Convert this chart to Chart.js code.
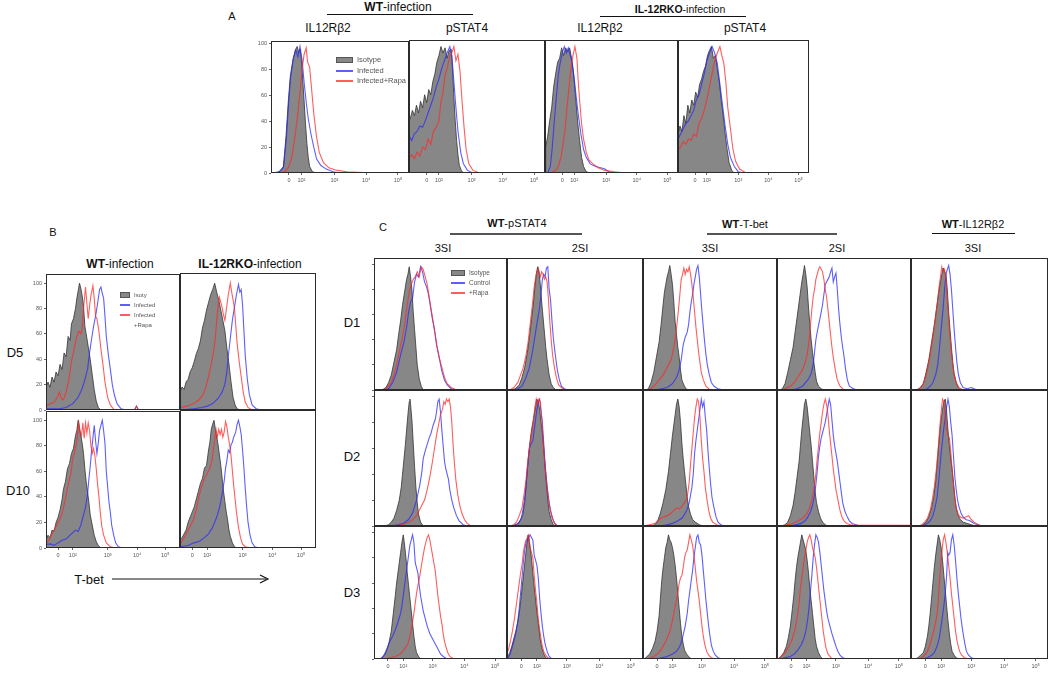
<!DOCTYPE html>
<html>
<head>
<meta charset="utf-8">
<script src="https://cdn.jsdelivr.net/npm/chart.js@4.4.0/dist/chart.umd.min.js"></script>
<style>
  body { margin: 0; background: #fff; width: 1050px; height: 676px; position: relative; overflow: hidden;
         font-family: Arial, "Liberation Sans", sans-serif; color: #111; }
  .t { position: absolute; white-space: nowrap; transform: translate(-50%, -50%); line-height: 1; }
  .l { position: absolute; white-space: nowrap; transform: translateY(-50%); line-height: 1; color: #555; }
  .rule { position: absolute; height: 0; }
  .p { position: absolute; }
  .sw { position: absolute; }
</style>
</head>
<body>

<!-- panel A -->
<div class="t" style="left:232px;top:16px;font-size:11px">A</div>
<div class="t" style="left:398px;top:7px;font-size:12px"><b>WT</b>-infection</div>
<div class="rule" style="left:327px;top:14px;width:146px;border-top:1.5px solid #111"></div>
<div class="t" style="left:680px;top:9px;font-size:10.5px"><b>IL-12RKO</b>-infection</div>
<div class="rule" style="left:600px;top:16px;width:146px;border-top:1.5px solid #111"></div>
<div class="t" style="left:328px;top:28px;font-size:12px">IL12Rβ2</div>
<div class="t" style="left:467px;top:28px;font-size:12px">pSTAT4</div>
<div class="t" style="left:600px;top:28px;font-size:12px">IL12Rβ2</div>
<div class="t" style="left:745px;top:28px;font-size:12px">pSTAT4</div>

<!-- panel B -->
<div class="t" style="left:53px;top:232px;font-size:11px">B</div>
<div class="t" style="left:120px;top:264px;font-size:12px"><b>WT</b>-infection</div>
<div class="t" style="left:250px;top:264px;font-size:12px"><b>IL-12RKO</b>-infection</div>
<div class="t" style="left:15px;top:352px;font-size:13px">D5</div>
<div class="t" style="left:18px;top:490px;font-size:13px">D10</div>
<div class="t" style="left:89px;top:579px;font-size:13px">T-bet</div>
<svg class="p" style="left:110px;top:573px" width="162" height="12">
  <line x1="2" y1="6" x2="156" y2="6" stroke="#111" stroke-width="1.2"/>
  <path d="M150 2 L158 6 L150 10" fill="none" stroke="#111" stroke-width="1.2"/>
</svg>

<!-- panel C -->
<div class="t" style="left:383px;top:227px;font-size:11px">C</div>
<div class="t" style="left:517px;top:223px;font-size:11px"><b>WT</b>-pSTAT4</div>
<div class="rule" style="left:450px;top:233px;width:132px;border-top:2px solid #555"></div>
<div class="t" style="left:745px;top:224px;font-size:11px"><b>WT</b>-T-bet</div>
<div class="rule" style="left:707px;top:233px;width:130px;border-top:2px solid #555"></div>
<div class="t" style="left:973px;top:224px;font-size:11px"><b>WT</b>-IL12Rβ2</div>
<div class="rule" style="left:932px;top:233px;width:83px;border-top:1.5px solid #111"></div>
<div class="t" style="left:443px;top:248px;font-size:11px">3SI</div>
<div class="t" style="left:580px;top:248px;font-size:11px">2SI</div>
<div class="t" style="left:710px;top:248px;font-size:11px">3SI</div>
<div class="t" style="left:837px;top:248px;font-size:11px">2SI</div>
<div class="t" style="left:973px;top:248px;font-size:11px">3SI</div>
<div class="t" style="left:352px;top:322px;font-size:13px">D1</div>
<div class="t" style="left:352px;top:456px;font-size:13px">D2</div>
<div class="t" style="left:352px;top:592px;font-size:13px">D3</div>

<div id="charts"></div>
<div id="legends"></div>

<script>
// x positions are in display units 0-100 across each plot, y is % of max
const xLabels = ['0', '10²', '10³', '10⁴', '10⁵'];
const tickA = [13, 22, 46, 69, 92];
const tickB = [9, 20, 46, 68, 89];
const tickC = [10.5, 22, 44, 68, 91];
const yTicks = [0, 20, 40, 60, 80, 100];

// ---- A: WT IL12Rb2
const a1Iso = [[2,0],[6,1],[9,5],[11,30],[12.5,55],[14,75],[16,88],[17.5,95],[19,98],[20,93],[21,96],[22,88],[23,72],[24,56],[25,38],[26,23],[27,12],[28,5],[30,1],[33,0]];
const a1Inf = [[2,0],[6,1],[9,4],[11,25],[12.5,50],[14,72],[16,88],[18,95],[19.5,90],[21,98],[22.5,88],[24,70],[25.5,55],[27,42],[29,30],[31,20],[33,11],[36,6],[40,3],[45,1],[50,0],[100,0]];
const a1Rapa = [[5,0],[10,1],[13,5],[15,12],[17,25],[19,42],[21,62],[22.5,80],[24,92],[25.5,97],[26.5,86],[28,82],[29,70],[31,46],[33,28],[35,16],[38,8],[42,4],[48,2],[55,1],[75,0],[100,0]];
// ---- A: WT pSTAT4
const a2Iso = [[0,40],[1,42],[2.5,48],[4,44],[5.5,52],[7,46],[8.5,55],[10,50],[11.5,60],[13,54],[14.5,64],[16,60],[17.5,70],[19,76],[20.5,85],[22,90],[23.5,97],[25,92],[26.5,96],[28,88],[29.5,94],[31,95],[32,80],[33,58],[34,40],[35,25],[36,14],[37,6],[38.5,2],[40,0]];
const a2Inf = [[0,100],[0.3,28],[2,25],[4,30],[6,32],[8,36],[10,35],[12,40],[14,46],[16,52],[18,58],[20,66],[22,72],[24,80],[26,86],[28,92],[30,97],[31.5,90],[33,70],[34.5,50],[36,32],[38,16],[40,7],[43,2],[47,0],[100,0]];
const a2Rapa = [[0,100],[0.3,12],[2,14],[4,11],[6,16],[8,13],[10,20],[12,18],[14,26],[16,22],[18,32],[20,35],[22,40],[23.5,55],[25,62],[26.5,75],[28,80],[30,90],[31.5,92],[33,97],[34.5,86],[36,91],[37.5,78],[39,55],[40.5,35],[42,18],[44,7],[47,2],[52,0],[100,0]];
// ---- A: IL-12RKO IL12Rb2
const a3Iso = [[0,0],[0.5,20],[2,28],[3.5,40],[5,50],[6.5,66],[8,76],[9.5,85],[11,88],[12.5,96],[14,90],[15.5,96],[17,93],[18.5,96],[20,88],[21.5,76],[23,58],[24.5,40],[26,25],[27.5,12],[29,5],[31,1],[34,0]];
const a3Inf = [[2,0],[4,5],[5.5,20],[7,40],[8.5,58],[10,75],[11.5,85],[13,92],[14.5,97],[16,92],[17.5,96],[19,90],[20.5,84],[22,72],[23.5,58],[25,45],[27,30],[29,18],[31,12],[34,7],[38,5],[42,4],[45,3],[48,1],[52,0],[100,0]];
const a3Rapa = [[4,0],[8,2],[10,5],[12,12],[13.5,22],[15,32],[16.5,50],[18,65],[19.5,80],[21,90],[22.5,97],[24,88],[25,70],[26,56],[27.5,38],[29,26],[31,16],[33,10],[36,7],[40,4],[45,2],[52,1],[60,0],[100,0]];
// ---- A: IL-12RKO pSTAT4
const a4Iso = [[0,30],[1.5,36],[3,32],[4.5,44],[6,38],[7.5,52],[9,46],[10.5,56],[12,52],[13.5,62],[15,58],[16.5,68],[18,72],[19.5,78],[21,82],[22.5,90],[24,94],[25.5,97],[27,88],[28.5,90],[30,80],[31.5,70],[33,56],[34.5,44],[36,30],[37.5,18],[39,8],[41,2],[43,0]];
const a4Inf = [[0,26],[2,30],[4,34],[6,38],[8,40],[10,44],[12,48],[14,56],[16,60],[18,68],[20,76],[22,86],[24,92],[26,97],[28,92],[30,84],[32,68],[34,52],[36,36],[38,22],[40,12],[43,5],[46,1],[50,0],[100,0]];
const a4Rapa = [[0,45],[0.3,18],[2,20],[4,24],[6,22],[8,26],[10,25],[12,30],[14,28],[16,38],[18,42],[20,48],[22,56],[24,66],[26,76],[28,86],[30,92],[32,97],[33.5,90],[35,84],[36.5,70],[38,50],[40,34],[42,18],[44,9],[47,3],[52,0],[100,0]];

// ---- B: T-bet, WT D5 / KO D5 / WT D10 / KO D10
const b1Iso = [[0,18],[1.5,22],[3,18],[4.5,26],[6,22],[7.5,30],[9,27],[10.5,36],[12,32],[13.5,45],[15,42],[16.5,58],[18,55],[19,68],[20.5,72],[22,80],[23,88],[24,94],[25,100],[26,96],[27,90],[28,82],[29,66],[30,60],[31.5,50],[33,40],[34.5,28],[36,16],[37.5,7],[39,2],[41,0]];
const b1Inf = [[0,1],[10,1],[15,2],[20,5],[24,10],[27,17],[29,24],[31,32],[32.5,45],[34,56],[35.5,66],[37,74],[38.5,84],[40,95],[41,97],[42,92],[43,88],[44,74],[45,58],[46.5,44],[48,32],[49.5,20],[51,12],[53,5],[56,1],[60,0],[66,0],[67.5,3],[69,0],[100,0]];
const b1Rapa = [[0,3],[3,5],[6,6],[8.5,10],[10,14],[11.5,9],[13,8],[15,14],[17,24],[19,38],[21,48],[23,58],[24.5,62],[26,60],[27,64],[28,80],[29.5,97],[30.5,84],[31.5,72],[32.5,82],[33.5,90],[35,98],[36,88],[37,74],[38,72],[39.5,62],[41,48],[42.5,36],[44,22],[46,10],[48,4],[51,0],[66,0],[67.5,3],[69,0],[100,0]];
const b2Iso = [[0,14],[1.5,18],[3,16],[4.5,22],[6,24],[7.5,30],[9,33],[10.5,38],[12,44],[13.5,48],[15,54],[16.5,64],[18,70],[19.5,78],[21,84],[22.5,90],[24,94],[25.5,99],[27,92],[28.5,86],[30,78],[31.5,70],[33,62],[34.5,48],[36,36],[37.5,22],[39,10],[40.5,4],[42,1],[44,0]];
const b2Inf = [[0,0],[10,1],[16,2],[20,3],[24,5],[28,9],[31,14],[33,20],[34.5,30],[35.5,42],[37,56],[38.5,70],[40,80],[41.5,90],[43,98],[44,92],[45,94],[46,82],[47,62],[48,42],[49.5,24],[51,12],[53,4],[56,1],[60,0],[100,0]];
const b2Rapa = [[0,2],[5,3],[10,5],[14,8],[17,12],[19,18],[21,26],[23,36],[24.5,44],[26,56],[27,70],[28,82],[29,88],[30,84],[31,80],[32,74],[33,70],[34.5,82],[35.5,90],[37,99],[38,92],[39,86],[40,80],[41,66],[42,52],[43.5,38],[45,26],[46.5,14],[48,6],[50,2],[53,0],[100,0]];
const b3Iso = [[0,6],[1.5,10],[3,8],[4.5,14],[6,13],[7.5,20],[9,24],[10.5,30],[12,38],[13,46],[14.5,52],[16,62],[17.5,66],[19,74],[20.5,78],[22,88],[23,92],[24,100],[25,94],[26,88],[27,82],[28,74],[29,62],[30,52],[31,44],[32,36],[33,26],[34.5,18],[36,10],[37.5,5],[39,2],[41,0]];
const b3Inf = [[0,3],[4,3],[6,2],[9,4],[12,6],[15,7],[18,10],[20,12],[22,14],[24,13],[26,18],[28,26],[29.5,32],[31,42],[32,54],[33,64],[34,76],[35,86],[36,96],[37,84],[38,74],[39,82],[40,92],[41,96],[42,100],[43,92],[44,82],[45,60],[46,48],[47,36],[48,28],[49,18],[50.5,10],[52,4],[54,1],[57,0],[100,0]];
const b3Rapa = [[0,4],[2,6],[4,10],[6,14],[8,18],[10,22],[12,27],[14,36],[15.5,44],[17,52],[18.5,58],[20,70],[21.5,76],[23,84],[24.5,98],[25.5,90],[26.5,88],[27.5,98],[28.5,86],[29.5,98],[30.5,90],[31.5,98],[32.5,92],[33.5,80],[34.5,74],[35.5,78],[36.5,72],[37.5,62],[38.5,50],[39.5,40],[40.5,28],[41.5,18],[43,10],[45,4],[48,1],[52,0],[100,0]];
const b4Iso = [[0,6],[1.5,8],[3,11],[4.5,14],[6,20],[7.5,24],[9,28],[10.5,32],[12,38],[13.5,44],[15,50],[16.5,54],[18,62],[19.5,64],[21,76],[22,82],[23,92],[24,96],[25,99],[26,92],[27,86],[28,80],[29,72],[30,64],[31,54],[32,44],[33,36],[34,28],[35,22],[36,14],[37,9],[38.5,4],[40,1],[42,0]];
const b4Inf = [[0,1],[6,2],[10,4],[14,5],[18,8],[21,11],[24,16],[27,24],[29,31],[31,42],[32.5,52],[33.5,62],[34.5,68],[35.5,76],[36.5,74],[37.5,80],[38.5,82],[39.5,86],[41,90],[42,96],[43,99],[44,94],[45,88],[46,76],[47,62],[48,46],[49,32],[50,20],[51.5,10],[53,4],[55,1],[58,0],[100,0]];
const b4Rapa = [[0,3],[2,6],[4,10],[6,14],[8,18],[10,22],[12,30],[14,40],[16,48],[18,54],[20,58],[22,62],[23.5,68],[25,80],[26.5,92],[27.5,86],[28.5,92],[29.5,88],[30.5,92],[31.5,86],[32.5,90],[33.5,98],[34.5,94],[35.5,86],[36.5,80],[37.5,72],[38.5,60],[39.5,48],[40.5,38],[41.5,28],[43,16],[44.5,8],[46,3],[48,1],[52,0],[100,0]];

// ---- C row D1: pSTAT4 3SI, pSTAT4 2SI, T-bet 3SI, T-bet 2SI, IL12Rb2 3SI
const c11Iso = [[6,0],[9,2],[11,6],[13,12],[15,22],[17,32],[18.5,44],[20,55],[21.5,68],[23,78],[24.5,88],[25.5,92],[26.5,98],[27.5,90],[28.5,80],[29.5,62],[30.5,48],[31.5,34],[32.5,20],[34,9],[35.5,3],[37,0]];
const c11Ctrl = [[8,0],[11,1],[14,6],[17,14],[20,28],[22.5,38],[24.5,50],[26,62],[27.5,70],[29,73],[30.5,86],[32,92],[33.5,90],[35,98],[36.5,94],[38,86],[39.5,82],[41,76],[42.5,66],[44,56],[45.5,48],[47,36],[49,26],[51,15],[53,8],[55,4],[58,1],[62,0],[100,0]];
const c11Rapa = [[7,0],[10,2],[13,6],[15,12],[17,20],[19,30],[21,40],[23,52],[25,68],[26.5,78],[28,84],[29.5,88],[31,90],[32.5,94],[34,90],[35.5,98],[37,96],[38.5,90],[40,84],[41.5,74],[43,64],[44.5,54],[46,44],[47.5,34],[49,26],[51,18],[53,10],[55,5],[58,2],[62,0],[100,0]];
const c12Iso = [[3,0],[6,1],[9,4],[11,10],[13,18],[15,30],[16.5,42],[18,56],[19.5,70],[20.5,82],[21.5,92],[22.5,98],[23.5,94],[24.5,84],[25.5,70],[26.5,58],[27.5,46],[28.5,34],[29.5,24],[31,12],[32.5,5],[34,2],[36,0]];
const c12Ctrl = [[5,0],[8,1],[11,3],[14,10],[16.5,18],[19,32],[21,46],[22.5,56],[24,66],[25,76],[26,88],[27,92],[28,90],[29,97],[30,98],[31,80],[32,72],[33,56],[34,42],[35.5,28],[37,16],[38.5,8],[40,3],[42,1],[45,0],[100,0]];
const c12Rapa = [[2,0],[5,2],[8,6],[10,12],[12,18],[14,28],[15.5,38],[17,52],[18.5,66],[20,82],[21.5,92],[23,97],[24.5,90],[25.5,94],[26.5,92],[27.5,88],[28.5,90],[29.5,86],[30.5,72],[31.5,54],[32.5,40],[33.5,28],[35,17],[36.5,9],[38,4],[40,2],[43,0],[100,0]];
const c13Iso = [[2,0],[4,1],[6,6],[8,14],[10,26],[12,38],[13.5,52],[15,68],[16,78],[17,84],[18,90],[19,94],[20,99],[21,92],[22,84],[23,70],[24,54],[25,44],[26,34],[27,26],[28,16],[29,8],[30.5,4],[32,1],[34,0]];
const c13Ctrl = [[8,0],[14,1],[18,2],[22,5],[25,10],[27,16],[28.5,24],[30,36],[31.5,42],[33,46],[34,52],[35,62],[36,70],[37,76],[38,84],[39,90],[40,96],[41,99],[42,90],[43,76],[44,62],[45,50],[46,38],[47,28],[48,20],[49.5,12],[51,6],[53,3],[56,1],[60,0],[100,0]];
const c13Rapa = [[3,0],[6,1],[9,4],[12,8],[15,12],[18,18],[21,24],[23,34],[24.5,44],[25.5,54],[26.5,64],[27.5,76],[28.5,88],[29.5,92],[30.5,97],[31.5,92],[32.5,96],[33.5,94],[34.5,98],[35.5,92],[36.5,84],[37.5,74],[38.5,62],[39.5,50],[40.5,40],[41.5,30],[42.5,22],[43.5,14],[45,8],[47,3],[50,0],[100,0]];
const c14Iso = [[2,0],[4,1],[6,5],[8,14],[10,24],[12,34],[13.5,46],[15,58],[16.5,70],[17.5,78],[18.5,86],[19.5,92],[20.5,99],[21.5,92],[22.5,82],[23.5,66],[24.5,52],[25.5,40],[26.5,30],[27.5,22],[28.5,14],[29.5,7],[31,3],[33,1],[35,0]];
const c14Ctrl = [[10,0],[15,1],[19,3],[23,8],[25.5,13],[27,20],[28,30],[29,40],[30,46],[31.5,54],[33,62],[34,68],[35,76],[36,84],[37,86],[38,88],[39,90],[40,94],[41,97],[42,86],[43,90],[44,93],[45,80],[46,64],[47,52],[48,42],[49,34],[50,27],[51,18],[52.5,8],[54,3],[57,1],[60,0],[100,0]];
const c14Rapa = [[3,0],[6,1],[10,3],[13,6],[16,11],[19,16],[21,22],[22.5,28],[24,40],[25,52],[26,64],[27,74],[28,80],[29,88],[30,92],[31,96],[32,98],[33,96],[34,94],[35,88],[36,80],[37,74],[38,64],[39,54],[40,44],[41,34],[42,26],[43.5,16],[45,8],[47,3],[50,0],[100,0]];
const c15Iso = [[3,0],[6,1],[9,5],[11,14],[13,24],[15,38],[17,52],[18.5,64],[20,76],[21.5,86],[22.5,92],[23.5,97],[24.5,94],[25.5,92],[26.5,80],[27.5,62],[28.5,48],[29.5,34],[30.5,22],[31.5,13],[33,6],[34.5,2],[36,0]];
const c15Ctrl = [[8,0],[12,1],[14,3],[16,6],[18,12],[19.5,20],[20.5,30],[21.5,42],[22.5,54],[23.5,66],[24.5,80],[25.5,92],[26.5,96],[27.5,99],[28.5,92],[29.5,80],[30.5,64],[31.5,48],[32.5,34],[33.5,22],[34.5,13],[36,6],[38,2],[41,1],[44,2],[46,1],[48,0],[100,0]];
const c15Rapa = [[3,0],[6,1],[8,3],[10,8],[12,16],[14,28],[16,42],[18,58],[19.5,72],[20.5,82],[21.5,90],[22.5,98],[23.5,94],[24.5,96],[25.5,88],[26.5,72],[27.5,56],[28.5,42],[29.5,30],[30.5,20],[31.5,12],[33,6],[35,2],[38,0],[100,0]];

// ---- C row D2
const c21Iso = [[8,0],[11,1],[13,3],[15,6],[17,12],[19,20],[20.5,30],[22,46],[23.5,62],[24.5,74],[25.5,86],[26.5,96],[27,98],[27.5,94],[28.5,82],[29.5,64],[30.5,46],[31.5,30],[32.5,18],[33.5,9],[35,3],[37,0]];
const c21Ctrl = [[12,0],[18,1],[22,2],[26,5],[29,10],[32,20],[34.5,32],[36,42],[37,52],[38.5,58],[40,63],[41.5,68],[43,72],[44.5,78],[46,82],[47,88],[48,96],[49,98],[50,88],[51,74],[52,62],[53,50],[54,44],[55,40],[56,36],[57,28],[58.5,20],[60,14],[62,8],[64,4],[67,1],[70,0],[100,0]];
const c21Rapa = [[14,0],[20,1],[24,2],[28,4],[32,8],[35,14],[38,20],[40,28],[42,38],[44,50],[45.5,60],[47,70],[48.5,78],[50,86],[51.5,90],[52.5,96],[53.5,94],[54.5,98],[55.5,96],[56.5,98],[57.5,92],[58.5,80],[59.5,62],[60.5,48],[61.5,36],[63,24],[64.5,16],[66,10],[68,5],[70,2],[73,0],[100,0]];
const c22Iso = [[4,0],[7,1],[9.5,4],[11.5,8],[13,18],[14,30],[15,44],[16,56],[17,66],[18,74],[19,80],[20,86],[21,92],[22,98],[23,96],[24,90],[25,80],[26,72],[27,60],[28,46],[29,32],[30,20],[31,11],[32.5,5],[34,1],[36,0]];
const c22Ctrl = [[3,0],[6,1],[8.5,2],[10.5,6],[12,14],[13.5,26],[15,44],[16.5,60],[18,64],[19,66],[20,74],[21,82],[22,90],[23,96],[24,98],[25,88],[26,80],[27,64],[28,48],[29,36],[30,26],[31,18],[32,12],[33.5,6],[35,2],[37,0],[100,0]];
const c22Rapa = [[2,0],[5,1],[7,3],[9,8],[11,14],[12.5,24],[14,36],[15.5,52],[17,64],[18.5,74],[19.5,82],[20.5,92],[21.5,98],[22.5,94],[23.5,98],[24.5,96],[25.5,84],[26.5,66],[27.5,52],[28.5,40],[29.5,30],[30.5,21],[31.5,14],[33,7],[34.5,3],[36,1],[38,0],[100,0]];
const c23Iso = [[6,0],[9,1],[11,4],[13,10],[15,18],[17,28],[19,42],[20.5,56],[22,70],[23,78],[24,86],[25,94],[26,98],[27,92],[28,80],[29,64],[30,52],[31,42],[32,32],[33,22],[34,15],[35.5,9],[37,5],[39,3],[42,1],[45,0]];
const c23Ctrl = [[12,0],[18,1],[22,2],[26,4],[29,6],[31,9],[33,13],[34.5,18],[35.5,24],[36.5,30],[37.5,40],[38.5,56],[39.5,66],[40.5,74],[41.5,82],[42.5,90],[43.5,98],[44.5,92],[45.5,96],[46.5,84],[47.5,74],[48.5,58],[49.5,44],[50.5,32],[51.5,22],[53,14],[54.5,7],[56,3],[58,1],[61,0],[100,0]];
const c23Rapa = [[0,0],[5,1],[9,2],[12,5],[15,7],[18,8],[21,10],[23,12],[25,14],[27,13],[29,15],[31,18],[33,22],[34.5,34],[35.5,48],[36.5,60],[37.5,72],[38.5,84],[39.5,92],[40.5,98],[41.5,96],[42.5,84],[43.5,66],[44.5,52],[45.5,42],[46.5,30],[47.5,22],[49,12],[50.5,6],[52,3],[55,1],[58,0],[100,0]];
const c24Iso = [[3,0],[6,1],[8,3],[10,8],[12,16],[13.5,26],[15,38],[16.5,50],[17.5,62],[18.5,74],[19.5,84],[20.5,94],[21.5,98],[22.5,92],[23.5,82],[24.5,72],[25.5,62],[26.5,50],[27.5,38],[28.5,26],[29.5,18],[31,11],[32.5,6],[34,3],[36,1],[38,0]];
const c24Ctrl = [[10,0],[14,1],[18,2],[21,4],[23,7],[25,11],[26.5,16],[28,24],[29,32],[30,42],[31,54],[32,62],[33,68],[34,72],[35,76],[36,80],[37,86],[38,92],[39,98],[40,94],[41,82],[42,70],[43,62],[44,56],[45,50],[46,42],[47,34],[48,26],[49,18],[50.5,12],[52,8],[54,4],[56,2],[59,1],[62,0],[100,0]];
const c24Rapa = [[4,0],[8,1],[12,2],[16,4],[19,6],[22,9],[24,13],[26,20],[27.5,28],[29,40],[30,52],[31,62],[32,72],[33,80],[34,88],[35,94],[36,98],[37,94],[38,86],[39,74],[40,64],[41,54],[42,44],[43,36],[44,28],[45.5,20],[47,12],[48.5,7],[50,4],[52,2],[55,1],[58,0.5],[100,0.5]];
const c25Iso = [[6,0],[9,1],[11,3],[13,7],[15,14],[16.5,22],[18,34],[19,46],[20,60],[21,72],[22,82],[23,90],[24,96],[25,98],[26,88],[27,74],[28,62],[29,52],[30,44],[31,34],[32,22],[33,14],[34.5,8],[36,5],[38,3],[41,2],[44,1],[47,0]];
const c25Ctrl = [[7,0],[10,1],[12,2],[14,4],[16,8],[17.5,14],[19,22],[20,32],[21,44],[22,56],[23,66],[24,76],[25,84],[26,92],[27,98],[28,92],[29,80],[30,70],[31,54],[32,38],[33,28],[34,20],[35,15],[36.5,10],[38,7],[40,5],[43,4],[46,2],[49,1],[52,0],[100,0]];
const c25Rapa = [[5,0],[8,1],[10,3],[12,6],[14,12],[15.5,20],[17,30],[18.5,44],[20,62],[21,76],[22,88],[23,98],[24,96],[25,84],[26,74],[27,70],[28,68],[29,58],[30,44],[31,32],[32,22],[33,14],[34.5,9],[36,7],[38,6],[40,7],[42,8],[44,5],[46,3],[49,1],[52,0],[100,0]];

// ---- C row D3
const c31Iso = [[4,0],[6,1],[8,3],[10,8],[11.5,14],[13,22],[14.5,36],[16,50],[17,60],[18,68],[19,76],[20,84],[21,92],[22,98],[23,90],[24,80],[25,68],[26,58],[27,48],[28,38],[29,28],[30,18],[31,10],[32,5],[33.5,2],[35,0]];
const c31Ctrl = [[4,0],[6,1],[8,4],[10,9],[12,14],[14,18],[16,23],[18,29],[20,36],[21,42],[22,50],[23,58],[24,66],[25,74],[26,82],[27,90],[28,94],[29,98],[30,92],[31,76],[32,72],[33,68],[34,58],[35,50],[36,44],[37,38],[38.5,32],[40,26],[42,20],[44,16],[46,12],[48,8],[50,4],[52,2],[55,0],[100,0]];
const c31Rapa = [[8,0],[12,1],[16,2],[20,4],[23,8],[25.5,12],[27,18],[28.5,26],[30,36],[31,44],[32,52],[33,58],[34.5,66],[36,76],[37,82],[38,88],[39,92],[40,96],[41,98],[42,94],[43,88],[44,82],[45,76],[46,70],[47,60],[48,50],[49,42],[50,34],[51,28],[52,20],[53,14],[54,10],[55.5,5],[57,2],[60,0],[100,0]];
const c32Iso = [[0,0],[1,3],[2,5],[3.5,10],[5,16],[6.5,22],[8,30],[9.5,40],[10.5,50],[11.5,60],[12.5,70],[13.5,80],[14.5,90],[15.5,98],[16.5,92],[17.5,84],[18.5,74],[19.5,62],[20.5,52],[21.5,42],[22.5,32],[23.5,24],[24.5,15],[25.5,9],[27,4],[28.5,1],[30,0]];
const c32Ctrl = [[0,0],[1,1],[2,3],[3.5,8],[5,14],[6.5,20],[8,30],[9,40],[10,52],[11,64],[12,76],[13,86],[14,92],[15,94],[16,96],[17,98],[18,96],[19,94],[20,82],[21,78],[22,74],[23,64],[24,48],[25,36],[26,26],[27,18],[28,12],[29.5,6],[31,2],[33,0],[100,0]];
const c32Rapa = [[0,5],[1,7],[2.5,14],[4,22],[5.5,32],[7,44],[8.5,56],[10,68],[11,74],[12,84],[13,90],[14,94],[15,96],[16,98],[17,88],[18,84],[19,80],[20,66],[21,54],[22,44],[23,32],[24,23],[25,16],[26,10],[27,6],[28.5,3],[30,1],[32,0],[100,0]];
const c33Iso = [[1,0],[3,2],[5,4],[7,8],[9,14],[10.5,22],[12,34],[13,48],[14,62],[15,72],[16,80],[17,88],[18,92],[19,98],[20,94],[21,92],[22,88],[23,82],[24,74],[25,64],[26,52],[27,40],[28,28],[29,18],[30,12],[31,7],[32.5,4],[34,2],[36,0]];
const c33Ctrl = [[10,0],[14,1],[18,2],[22,4],[25,6],[27,9],[28.5,13],[30,19],[31.5,26],[33,36],[34,46],[35,54],[36,62],[37,70],[38,80],[39,88],[40,96],[41,98],[42,92],[43,90],[44,82],[45,70],[46,58],[47,46],[48,36],[49,26],[50,18],[51,11],[52.5,6],[54,3],[56,1],[59,0],[100,0]];
const c33Rapa = [[4,0],[8,2],[11,4],[14,8],[17,14],[19.5,20],[21.5,28],[23,36],[24.5,44],[26,52],[27,60],[28,64],[29,66],[30,72],[31,80],[32,84],[33,86],[34,92],[35,98],[36,94],[37,90],[38,82],[39,72],[40,62],[41,54],[42,46],[43,36],[44,26],[45,18],[46,12],[47.5,6],[49,3],[51,1],[54,0],[100,0]];
const c34Iso = [[1,0],[3,2],[5,5],[7,10],[8.5,17],[10,26],[11.5,40],[12.5,50],[13.5,62],[14.5,72],[15.5,80],[16.5,86],[17.5,92],[18.5,98],[19.5,94],[20.5,90],[21.5,86],[22.5,78],[23.5,68],[24.5,56],[25.5,46],[26.5,36],[27.5,26],[28.5,16],[29.5,10],[31,5],[32.5,2],[34,0]];
const c34Ctrl = [[3,0],[6,1],[10,2],[13,4],[15.5,7],[18,11],[20,16],[21.5,22],[23,32],[24,42],[25,54],[26,66],[27,80],[28,90],[29,98],[30,96],[31,92],[32,84],[33,74],[34,64],[35,54],[36,46],[37,38],[38,32],[39.5,26],[41,20],[42.5,15],[44,10],[45.5,6],[47,3],[49,1],[52,0],[100,0]];
const c34Rapa = [[1,0],[3,2],[6,5],[9,10],[11.5,16],[13.5,24],[15,32],[16.5,44],[17.5,56],[18.5,64],[19.5,72],[20.5,80],[21.5,86],[22.5,92],[23.5,96],[24.5,98],[25.5,94],[26.5,88],[27.5,84],[28.5,80],[29.5,72],[30.5,62],[31.5,52],[32.5,42],[33.5,32],[34.5,22],[35.5,15],[36.5,9],[38,4],[39.5,2],[41,0],[100,0]];
const c35Iso = [[3,0],[5,1],[7,3],[9,5],[10.5,10],[12,18],[13,26],[14,36],[15,48],[16,60],[17,72],[18,82],[19,90],[20,98],[21,94],[22,88],[23,78],[24,66],[25,54],[26,42],[27,30],[28,20],[29,12],[30,6],[31.5,3],[33,1],[35,0]];
const c35Ctrl = [[8,0],[12,1],[15,3],[17,5],[19,10],[20.5,16],[22,26],[23,34],[24,42],[25,52],[26,66],[26.8,84],[27.5,82],[28.5,84],[29.5,94],[30.5,98],[31.5,90],[32.5,78],[33.5,64],[34.5,52],[35.5,42],[36.5,32],[37.5,24],[38.5,17],[39.5,11],[40.5,6],[42,3],[44,1],[47,0],[100,0]];
const c35Rapa = [[6,0],[8,1],[10,3],[12,6],[14,12],[15.5,18],[17,24],[18.5,32],[19.5,40],[20.5,56],[21.5,72],[22.5,84],[23.5,94],[24.5,98],[25.5,92],[26.5,84],[27.5,74],[28.5,64],[29.5,52],[30.5,42],[31.5,32],[32.5,22],[33.5,15],[34.5,10],[35.5,6],[37,3],[39,1],[42,0],[100,0]];

// layout of the small plots: [left, top, width, height] of the plot area
const panels = [
  { box: [271, 40, 138, 133], ymax: 102, ticks: tickA, xLab: true, yLab: true,  iso: a1Iso, blue: a1Inf, red: a1Rapa },
  { box: [409, 40, 136, 133], ymax: 102, ticks: tickA, xLab: true, yLab: false, iso: a2Iso, blue: a2Inf, red: a2Rapa },
  { box: [545, 40, 133, 133], ymax: 102, ticks: tickA, xLab: true, yLab: false, iso: a3Iso, blue: a3Inf, red: a3Rapa },
  { box: [678, 40, 131, 133], ymax: 102, ticks: tickA, xLab: true, yLab: false, iso: a4Iso, blue: a4Inf, red: a4Rapa },

  { box: [46, 273, 134, 137],  ymax: 107, ticks: tickB, xLab: false, yLab: true,  iso: b1Iso, blue: b1Inf, red: b1Rapa },
  { box: [180, 273, 136, 137], ymax: 107, ticks: tickB, xLab: false, yLab: false, iso: b2Iso, blue: b2Inf, red: b2Rapa },
  { box: [46, 410, 134, 138],  ymax: 107, ticks: tickB, xLab: true,  yLab: true,  iso: b3Iso, blue: b3Inf, red: b3Rapa },
  { box: [180, 410, 136, 138], ymax: 107, ticks: tickB, xLab: true,  yLab: false, iso: b4Iso, blue: b4Inf, red: b4Rapa },
];

const cCols = [[374, 133], [507, 136], [643, 134], [777, 134], [911, 137]];
const cRows = [[258, 132], [390, 136], [526, 133]];
const cData = [
  [[c11Iso, c11Ctrl, c11Rapa], [c12Iso, c12Ctrl, c12Rapa], [c13Iso, c13Ctrl, c13Rapa], [c14Iso, c14Ctrl, c14Rapa], [c15Iso, c15Ctrl, c15Rapa]],
  [[c21Iso, c21Ctrl, c21Rapa], [c22Iso, c22Ctrl, c22Rapa], [c23Iso, c23Ctrl, c23Rapa], [c24Iso, c24Ctrl, c24Rapa], [c25Iso, c25Ctrl, c25Rapa]],
  [[c31Iso, c31Ctrl, c31Rapa], [c32Iso, c32Ctrl, c32Rapa], [c33Iso, c33Ctrl, c33Rapa], [c34Iso, c34Ctrl, c34Rapa], [c35Iso, c35Ctrl, c35Rapa]],
];
cRows.forEach(([top, h], r) => {
  cCols.forEach(([left, w], c) => {
    const [iso, blue, red] = cData[r][c];
    panels.push({ box: [left, top, w, h], ymax: 105, ticks: tickC, xLab: r === 2, yLab: c === 0, yNums: false, iso, blue, red });
  });
});

const BLUE = 'rgba(40, 40, 255, 0.75)';
const RED = 'rgba(255, 40, 40, 0.75)';
const ISO_FILL = '#878787';
const ISO_LINE = '#333';
const M = { l: 16, t: 4, r: 4, b: 14 };

const xy = arr => arr.map(([x, y]) => ({ x, y }));

// frame round each plot
const frame = {
  id: 'frame',
  afterDatasetsDraw(chart) {
    const { left, top, right, bottom } = chart.chartArea;
    const g = chart.ctx;
    g.save();
    g.strokeStyle = '#2b2b2b';
    g.lineWidth = 1;
    g.strokeRect(Math.round(left) + 0.5, Math.round(top) + 0.5, Math.round(right - left) - 1, Math.round(bottom - top) - 1);
    g.restore();
  }
};

const holder = document.getElementById('charts');

panels.forEach(p => {
  const [x, y, w, h] = p.box;
  const div = document.createElement('div');
  div.className = 'p';
  div.style.left = (x - M.l) + 'px';
  div.style.top = (y - M.t) + 'px';
  const cv = document.createElement('canvas');
  cv.width = w + M.l + M.r;
  cv.height = h + M.t + M.b;
  div.appendChild(cv);
  holder.appendChild(div);

  new Chart(cv, {
    type: 'line',
    data: {
      datasets: [
        { data: xy(p.red), borderColor: RED, borderWidth: 1.1, pointRadius: 0, fill: false, tension: 0 },
        { data: xy(p.blue), borderColor: BLUE, borderWidth: 1.1, pointRadius: 0, fill: false, tension: 0 },
        { data: xy(p.iso), borderColor: ISO_LINE, backgroundColor: ISO_FILL, borderWidth: 0.8, pointRadius: 0, fill: 'origin', tension: 0 }
      ]
    },
    options: {
      responsive: false,
      animation: false,
      events: [],
      layout: { padding: { top: M.t, right: M.r, left: 0, bottom: 0 }, autoPadding: false },
      plugins: { legend: { display: false }, tooltip: { enabled: false } },
      scales: {
        x: {
          type: 'linear', min: 0, max: 100,
          afterFit(s) { s.height = M.b; },
          afterBuildTicks(s) { s.ticks = p.ticks.map(v => ({ value: v })); },
          ticks: {
            display: p.xLab, autoSkip: false, maxRotation: 0, padding: 2,
            font: { size: 5.5, family: 'Arial, "Liberation Sans"' }, color: '#555',
            callback: (v, i) => xLabels[i]
          },
          grid: { display: p.xLab, drawOnChartArea: false, tickLength: 2, color: '#666' },
          border: { display: false }
        },
        y: {
          min: 0, max: p.ymax,
          afterFit(s) { s.width = M.l; },
          afterBuildTicks(s) { s.ticks = yTicks.map(v => ({ value: v })); },
          ticks: {
            display: p.yLab && p.yNums !== false, padding: 2,
            font: { size: 5.5, family: 'Arial, "Liberation Sans"' }, color: '#555'
          },
          grid: { display: p.yLab, drawOnChartArea: false, tickLength: 2, color: '#666' },
          border: { display: false }
        }
      }
    },
    plugins: [frame]
  });
});

// legends drawn as text next to small swatches
const legends = [
  { x: 336, y: 60, dy: 10.5, sw: 17, size: 7.5, rows: [['iso', 'Isotype'], ['blue', 'Infected'], ['red', 'Infected+Rapa']] },
  { x: 120, y: 295, dy: 10, sw: 10, size: 6, rows: [['iso', 'Isoty'], ['blue', 'Infected'], ['red', 'Infected'], [null, '+Rapa']] },
  { x: 451, y: 273, dy: 10, sw: 14, size: 6.5, rows: [['iso', 'Isotype'], ['blue', 'Control'], ['red', '+Rapa']] }
];
const lg = document.getElementById('legends');
legends.forEach(L => {
  L.rows.forEach(([kind, label], i) => {
    const cy = L.y + i * L.dy;
    if (kind) {
      const s = document.createElement('div');
      s.className = 'sw';
      s.style.left = L.x + 'px';
      s.style.width = L.sw + 'px';
      if (kind === 'iso') {
        s.style.top = (cy - 3) + 'px';
        s.style.height = '6px';
        s.style.boxSizing = 'border-box';
        s.style.background = ISO_FILL;
        s.style.border = '1px solid #555';
      } else {
        s.style.top = (cy - 1) + 'px';
        s.style.height = '2px';
        s.style.background = kind === 'blue' ? BLUE : RED;
      }
      lg.appendChild(s);
    }
    const t = document.createElement('div');
    t.className = 'l';
    t.style.left = (L.x + L.sw + 4) + 'px';
    t.style.top = cy + 'px';
    t.style.fontSize = L.size + 'px';
    t.textContent = label;
    lg.appendChild(t);
  });
});
</script>
</body>
</html>
